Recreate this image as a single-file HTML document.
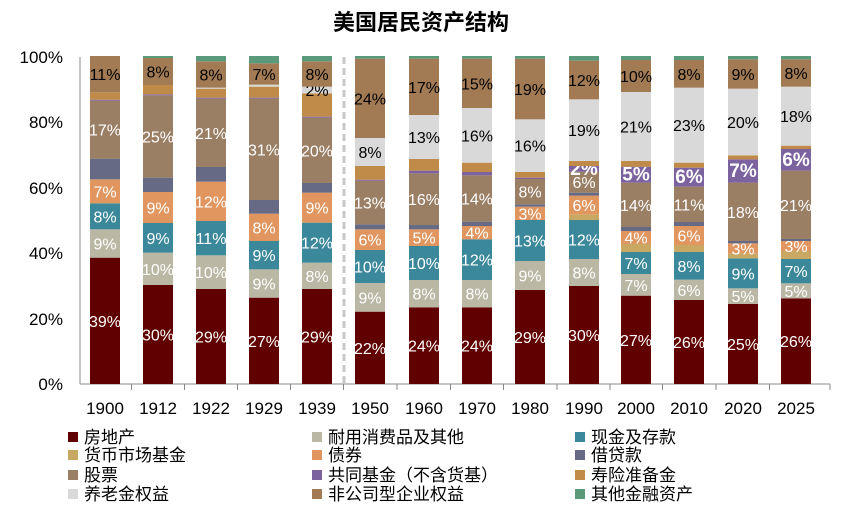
<!DOCTYPE html>
<html><head><meta charset="utf-8"><style>
body{margin:0;background:#fff;width:843px;height:518px;overflow:hidden;font-family:"Liberation Sans","Noto Sans CJK SC",sans-serif}
</style></head><body>
<svg id="s" width="843" height="518" xmlns="http://www.w3.org/2000/svg" font-family="Liberation Sans, Noto Sans CJK SC, sans-serif">
<text x="421" y="30" text-anchor="middle" font-size="22" font-weight="bold" font-family="Noto Sans CJK SC, sans-serif">美国居民资产结构</text>
<g font-size="17" text-anchor="end" fill="#000">
<text x="63" y="63">100%</text><text x="63" y="128">80%</text><text x="63" y="194">60%</text><text x="63" y="259">40%</text><text x="63" y="325">20%</text><text x="63" y="390">0%</text>
</g>
<line x1="80" y1="57" x2="80" y2="384" stroke="#888"/>
<line x1="80" y1="384" x2="830" y2="384" stroke="#888"/>
<line x1="344" y1="57" x2="344" y2="384" stroke="#c8c8c8" stroke-width="3" stroke-dasharray="7,4"/>
<g id="bars"></g>
<g id="leg" font-size="17" font-family="Liberation Sans, Noto Sans CJK SC, sans-serif"></g>
</svg>
<script>
var C={re:"#600000",du:"#BAB8A4",ca:"#3B889B",mm:"#C9A864",bo:"#E0965E",lo:"#666A85",st:"#9A7F65",mu:"#7D62A0",in:"#C08A48",pe:"#D9D9D9",nc:"#A27B55",ot:"#5A9A7A"};
var order=["re","du","ca","mm","bo","lo","st","mu","in","pe","nc","ot"];
var B=[
["1900",105,{re:623,du:538,ca:460,bo:388,lo:326,st:152,mu:149,in:127,nc:18},{re:"39%",du:"9%",ca:"8%",bo:"7%",st:"17%",nc:"11%"}],
["1912",158,{re:705,du:608,ca:519,bo:426,lo:383,st:136,mu:133,in:105,nc:24,ot:18},{re:"30%",du:"10%",ca:"9%",bo:"9%",st:"25%",nc:"8%"}],
["1922",211,{re:717,du:616,ca:513,bo:395,lo:351,st:146,mu:143,in:116,pe:113,nc:34,ot:18},{re:"29%",du:"10%",ca:"11%",bo:"12%",st:"21%",nc:"8%"}],
["1929",264,{re:743,du:658,ca:573,bo:491,lo:450,st:146,mu:143,in:110,pe:104,nc:40,ot:18},{re:"27%",du:"9%",ca:"9%",bo:"8%",st:"31%",nc:"7%"}],
["1939",317,{re:717,du:638,ca:518,bo:428,lo:399,st:203,mu:200,in:130,pe:110,nc:34,ot:18},{re:"29%",du:"8%",ca:"12%",bo:"9%",st:"20%",pe:"2%",nc:"8%"}],
["1950",370,{re:785,du:699,ca:600,bo:538,lo:523,st:392,mu:389,in:348,pe:264,nc:26,ot:18},{re:"22%",du:"9%",ca:"10%",bo:"6%",st:"13%",pe:"8%",nc:"24%"}],
["1960",424,{re:772,du:690,ca:588,bo:538,lo:525,st:370,mu:362,in:327,pe:195,nc:26,ot:18},{re:"24%",du:"8%",ca:"10%",bo:"5%",st:"16%",pe:"13%",nc:"17%"}],
["1970",477,{re:772,du:690,ca:568,bo:528,lo:515,st:376,mu:366,in:338,pe:174,nc:26,ot:18},{re:"24%",du:"8%",ca:"12%",bo:"4%",st:"14%",pe:"16%",nc:"15%"}],
["1980",530,{re:720,du:633,ca:510,bo:470,lo:463,st:387,mu:383,in:366,pe:208,nc:26,ot:18},{re:"29%",du:"9%",ca:"13%",bo:"3%",st:"8%",pe:"16%",nc:"19%"}],
["1990",584,{re:708,du:627,ca:510,mm:493,bo:437,lo:428,st:365,mu:348,in:333,pe:148,nc:32,ot:18},{re:"30%",du:"8%",ca:"12%",bo:"6%",st:"6%",mu:"2%",pe:"19%",nc:"12%"}],
["2000",636,{re:737,du:672,ca:606,mm:582,bo:543,lo:531,st:398,mu:350,in:333,pe:126,nc:30,ot:18},{re:"27%",du:"7%",ca:"7%",bo:"4%",st:"14%",mu:"5%",pe:"21%",nc:"10%"}],
["2010",689,{re:750,du:689,ca:606,mm:585,bo:528,lo:516,st:410,mu:353,in:338,pe:113,nc:30,ot:18},{re:"26%",du:"6%",ca:"8%",bo:"6%",st:"11%",mu:"6%",pe:"23%",nc:"8%"}],
["2020",743,{re:762,du:715,ca:625,mm:610,bo:580,lo:573,st:398,mu:328,in:316,pe:116,nc:28,ot:18},{re:"25%",du:"5%",ca:"9%",bo:"3%",st:"18%",mu:"7%",pe:"20%",nc:"9%"}],
["2025",796,{re:745,du:700,ca:627,mm:603,bo:573,lo:567,st:362,mu:297,in:287,pe:110,nc:28,ot:18},{re:"26%",du:"5%",ca:"7%",bo:"3%",st:"21%",mu:"6%",pe:"18%",nc:"8%"}]
];
var g=document.getElementById("bars"),h="";
B.forEach(function(b,i){
  var x=b[1]-15,prev=384,segs=b[2];
  order.forEach(function(k){
    if(segs[k]===undefined)return;
    var top=50+segs[k]/3;
    h+='<rect x="'+x+'" y="'+top+'" width="30" height="'+(prev-top)+'" fill="'+C[k]+'"/>';
    var lb=b[3][k];
    if(lb){var cy=(top+prev)/2+6;var col=(k=="pe"||k=="nc")?"#000":"#fff";
      var fs=(k=="mu")?19:16;var fw=(k=="mu")?' font-weight="bold"':'';
      h+='<text x="'+b[1]+'" y="'+cy+'" text-anchor="middle" font-size="'+fs+'"'+fw+' fill="'+col+'">'+lb+'</text>';}
    prev=top;
  });
  h+='<text x="'+b[1]+'" y="414" text-anchor="middle" font-size="17">'+b[0]+'</text>';
  if(i<B.length-1){var tx=(b[1]+B[i+1][1])/2;h+='<line x1="'+tx+'" y1="384" x2="'+tx+'" y2="390" stroke="#888"/>';}
});
h+='<line x1="830" y1="384" x2="830" y2="390" stroke="#888"/>';
g.innerHTML=h;
var L=[["re","房地产",68,437],["du","耐用消费品及其他",312,437],["ca","现金及存款",575,437],
["mm","货币市场基金",68,455],["bo","债券",312,455],["lo","借贷款",575,455],
["st","股票",68,475],["mu","共同基金（不含货基）",312,475],["in","寿险准备金",575,475],
["pe","养老金权益",68,494],["nc","非公司型企业权益",312,494],["ot","其他金融资产",575,494]];
var lh="";
L.forEach(function(l){lh+='<rect x="'+l[2]+'" y="'+(l[3]-5)+'" width="10" height="10" fill="'+C[l[0]]+'"/><text x="'+(l[2]+16)+'" y="'+(l[3]+6)+'">'+l[1]+'</text>';});
document.getElementById("leg").innerHTML=lh;
</script>
</body></html>
